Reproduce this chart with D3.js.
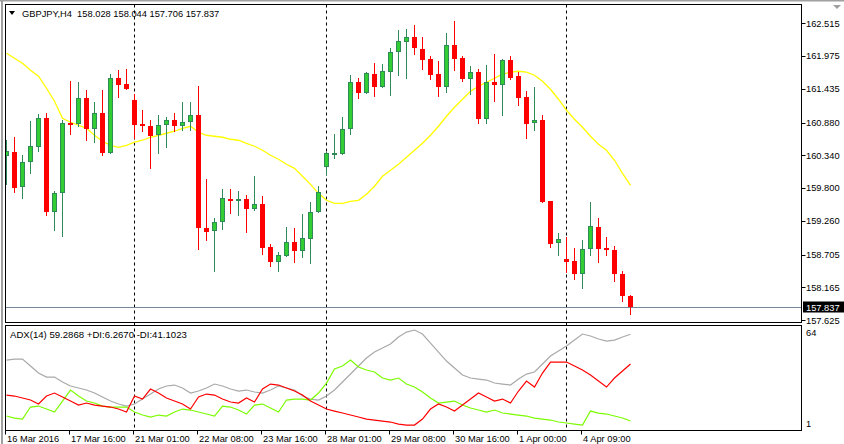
<!DOCTYPE html>
<html><head><meta charset="utf-8">
<script src="https://cdn.jsdelivr.net/npm/d3@7"></script>
<style>
body{margin:0;background:#fff}
svg{display:block}
text{font-family:"Liberation Sans",Arial,sans-serif;fill:#000}
</style>
</head><body>
<svg id="c" width="844" height="444"></svg>
<script>
const symbol = "GBPJPY,H4";
const opens = [160.324,160.390,159.813,160.225,160.472,160.950,159.401,159.714,160.868,160.851,
161.280,160.769,161.032,160.374,161.609,161.510,161.247,160.851,160.818,160.670,
160.835,160.917,160.818,160.884,160.999,159.138,159.089,159.237,159.616,159.583,
159.616,159.451,159.533,158.824,158.578,158.677,158.907,158.759,158.957,159.401,
160.143,160.374,160.357,160.769,161.543,161.362,161.675,161.461,161.708,162.037,
162.202,162.284,162.087,161.922,161.675,161.461,162.153,161.939,161.593,161.708,
160.934,161.543,161.494,161.906,161.642,161.296,160.868,160.917,159.583,158.891,
158.627,158.594,158.379,158.792,159.155,158.808,158.775,158.379,158.028];
const highs = [160.588,160.637,160.341,160.901,161.016,161.032,159.747,160.917,161.560,161.543,
161.411,161.214,161.411,161.675,161.741,161.757,161.345,161.082,160.917,160.999,
160.967,161.032,161.214,161.214,161.477,159.945,159.303,159.780,159.780,159.747,
159.682,159.995,159.665,158.874,158.743,159.155,159.138,159.369,159.566,159.830,
160.390,160.686,160.967,161.658,161.609,161.708,161.856,161.840,162.103,162.400,
162.416,162.482,162.284,161.971,161.889,162.350,162.548,161.971,161.807,161.757,
161.823,162.004,161.922,161.971,161.708,161.395,161.461,160.999,159.583,159.056,
158.990,158.808,158.940,159.566,159.303,158.990,158.841,158.430,158.044];
const lows = [159.846,159.714,159.616,160.028,160.390,159.336,159.089,158.990,160.670,160.802,
160.571,160.538,160.324,160.357,161.280,161.411,160.604,160.719,160.110,160.357,
160.456,160.719,160.736,160.736,158.775,158.924,158.413,159.105,159.369,159.336,
159.056,159.418,158.693,158.495,158.413,158.660,158.561,158.644,158.545,159.385,
160.011,160.275,160.341,160.670,161.263,161.345,161.296,161.444,161.312,161.642,
161.593,161.988,161.741,161.576,161.296,161.362,161.724,161.543,161.329,160.851,
160.851,161.214,160.983,161.576,161.148,160.604,160.736,159.550,158.808,158.677,
158.397,158.281,158.133,158.677,158.561,158.677,158.248,157.919,157.706];
const closes = [160.406,159.797,160.225,160.489,160.950,159.401,159.714,160.868,160.835,161.280,
160.769,161.032,160.374,161.609,161.494,161.428,160.835,160.818,160.654,160.835,
160.917,160.818,160.884,160.999,159.138,159.072,159.237,159.632,159.583,159.616,
159.451,159.533,158.808,158.578,158.693,158.907,158.759,158.973,159.401,159.731,
160.374,160.382,160.769,161.543,161.362,161.691,161.461,161.724,162.037,162.219,
162.284,162.103,161.906,161.658,161.461,162.153,161.922,161.593,161.708,160.934,
161.543,161.494,161.906,161.609,161.280,160.851,160.917,159.566,158.874,158.957,
158.578,158.379,158.792,159.171,158.792,158.775,158.379,158.018,157.837];
const maValues = [162.021,161.939,161.856,161.741,161.642,161.444,161.230,160.950,160.884,160.835,
160.785,160.670,160.571,160.505,160.472,160.505,160.555,160.588,160.637,160.670,
160.703,160.736,160.785,160.818,160.719,160.670,160.654,160.637,160.604,160.588,
160.538,160.489,160.423,160.341,160.275,160.192,160.126,159.995,159.862,159.714,
159.599,159.550,159.550,159.583,159.599,159.698,159.830,159.995,160.093,160.192,
160.308,160.423,160.538,160.670,160.818,160.983,161.131,161.263,161.395,161.477,
161.543,161.609,161.675,161.708,161.724,161.708,161.658,161.560,161.428,161.263,
161.082,160.934,160.802,160.654,160.522,160.423,160.258,160.044,159.846];
const adxValues = [43.55,44.16,44.16,39.88,35.60,33.15,33.15,30.09,27.65,26.42,
25.20,23.36,20.92,18.47,16.64,15.41,16.64,19.69,22.75,25.81,
27.65,28.26,26.42,23.36,24.59,26.42,28.87,27.65,25.81,24.59,
25.20,23.98,23.36,25.20,27.65,26.42,25.20,21.53,19.69,19.08,
21.53,25.20,30.09,34.98,39.88,44.77,48.44,50.89,53.33,57.61,
60.67,61.90,59.45,53.94,48.44,42.94,38.65,34.37,32.54,31.93,
31.31,29.48,28.87,28.26,31.93,34.98,36.21,41.10,46.00,49.05,
52.11,55.78,59.45,58.23,56.39,55.17,55.78,57.61,59.2868];
const minusDI = [22.14,21.53,20.31,19.08,16.64,21.53,23.36,20.92,18.47,16.02,
17.25,16.02,15.41,14.80,13.58,11.74,21.53,19.69,25.81,23.36,
20.31,18.47,16.64,13.58,20.92,22.75,22.14,19.69,17.86,17.25,
20.31,17.86,25.81,28.87,28.26,26.42,24.59,22.14,18.47,16.02,
13.58,12.35,11.13,9.91,8.69,7.46,6.85,6.24,5.63,4.40,
3.79,3.79,7.46,13.58,16.64,14.80,12.35,16.02,19.69,23.36,
20.92,18.47,19.69,17.25,24.59,30.70,27.03,35.60,42.32,42.32,
42.32,39.88,37.43,34.37,30.70,27.03,32.54,36.82,41.1023];
const plusDI = [9.30,8.07,7.46,14.80,15.41,13.58,11.74,18.47,25.20,21.53,
18.47,17.25,15.41,14.80,14.80,14.80,11.74,9.91,8.69,9.91,
9.30,11.74,13.58,12.97,11.74,10.52,9.30,15.41,14.80,12.97,
10.52,16.02,16.64,14.19,11.74,19.08,19.69,19.69,19.08,23.36,
29.48,38.04,39.88,43.55,39.27,37.43,36.21,32.54,31.31,32.54,
28.87,27.03,23.98,20.31,17.25,17.86,18.47,16.02,14.19,12.97,
11.74,12.97,11.13,10.52,9.91,9.30,8.07,7.46,6.85,5.63,
5.02,4.40,3.79,12.35,11.13,10.52,9.30,8.07,6.2670];
const priceTicks = [162.515,161.975,161.435,160.880,160.340,159.800,159.260,158.705,158.165,157.625];
const indicatorTicks = [64, 1];
const timeTickBars = [0,8,16,24,32,40,48,56,64,72];
const timeTickLabels = ["16 Mar 2016","17 Mar 16:00","21 Mar 01:00","22 Mar 08:00","23 Mar 16:00",
"28 Mar 01:00","29 Mar 08:00","30 Mar 16:00","1 Apr 00:00","4 Apr 09:00"];
const separatorBars = [16,40,70];

const n = opens.length;
const last = n - 1;
const svg = d3.select("#c");

const L = 5.5, R = 801.5, mainTop = 4.5, mainBot = 322.5, indTop = 325.5, indBot = 430.5;

const x = d3.scaleLinear().domain([0, 78]).range([6.5, 630.5]);
const y = d3.scaleLinear().domain([157.625, 162.515]).range([320.2, 23.2]);
const yi = d3.scaleLinear().domain([1, 64]).range([429.6, 326.6]);

svg.append("rect").attr("width",844).attr("height",444).attr("fill","#fff");
svg.append("rect").attr("x",0).attr("y",0).attr("width",844).attr("height",1.5).attr("fill","#a0a0a0");
svg.append("rect").attr("x",1).attr("y",0).attr("width",2).attr("height",444).attr("fill","#a0a0a0");

const defs = svg.append("defs");
defs.append("clipPath").attr("id","cm").append("rect").attr("x",L).attr("y",mainTop).attr("width",R-L).attr("height",mainBot-mainTop);
defs.append("clipPath").attr("id","ci").append("rect").attr("x",L).attr("y",indTop).attr("width",R-L).attr("height",indBot-indTop);

svg.append("g").selectAll("line").data(separatorBars).join("line")
  .attr("x1",d=>x(d)).attr("x2",d=>x(d)).attr("y1",mainTop).attr("y2",indBot)
  .attr("stroke","#000").attr("stroke-dasharray","3,3").attr("stroke-width",1);

const gm = svg.append("g").attr("clip-path","url(#cm)");

gm.append("line").attr("x1",L).attr("x2",R)
  .attr("y1",Math.round(y(closes[last]))+0.5).attr("y2",Math.round(y(closes[last]))+0.5)
  .attr("stroke","#778899");

gm.append("path").datum(maValues)
  .attr("d", d3.line().x((d,i)=>x(i)).y(d=>y(d)))
  .attr("fill","none").attr("stroke","#ffff00").attr("stroke-width",1.3);

const idx = d3.range(n);
const cg = gm.append("g").attr("shape-rendering","crispEdges");
cg.selectAll("line").data(idx).join("line")
  .attr("x1",i=>x(i)).attr("x2",i=>x(i))
  .attr("y1",i=>y(highs[i])).attr("y2",i=>y(lows[i]))
  .attr("stroke",i=>closes[i]>=opens[i]?"#2e8b57":"#ff0000");
cg.selectAll("rect.bear").data(idx.filter(i=>closes[i]<opens[i])).join("rect").attr("class","bear")
  .attr("x",i=>x(i)-2.5).attr("width",5)
  .attr("y",i=>y(opens[i])).attr("height",i=>Math.max(1.5,y(closes[i])-y(opens[i])))
  .attr("fill","#ff0000");
cg.selectAll("rect.bull").data(idx.filter(i=>closes[i]>=opens[i])).join("rect").attr("class","bull")
  .attr("x",i=>x(i)-2).attr("width",4)
  .attr("y",i=>y(closes[i])+0.5).attr("height",i=>Math.max(1,y(opens[i])-y(closes[i])-1))
  .attr("fill","#32cd32").attr("stroke","#2e8b57");

const gi = svg.append("g").attr("clip-path","url(#ci)");
const il = d3.line().x((d,i)=>x(i)).y(d=>yi(d));
[[adxValues,"#a9a9a9"],[plusDI,"#7cfc00"],[minusDI,"#ff0000"]].forEach(([arr,col])=>{
  gi.append("path").datum(arr).attr("d",il).attr("fill","none").attr("stroke",col).attr("stroke-width",1.2);
});

const fr = svg.append("g").attr("fill","none").attr("stroke","#000").attr("shape-rendering","crispEdges");
fr.append("rect").attr("x",L).attr("y",mainTop).attr("width",R-L).attr("height",mainBot-mainTop);
fr.append("rect").attr("x",L).attr("y",indTop).attr("width",R-L).attr("height",indBot-indTop);

const pa = svg.append("g");
pa.selectAll("line").data(priceTicks).join("line")
  .attr("x1",R).attr("x2",R+4).attr("y1",d=>Math.round(y(d))+0.5).attr("y2",d=>Math.round(y(d))+0.5)
  .attr("stroke","#000");
pa.selectAll("text").data(priceTicks).join("text")
  .attr("x",806).attr("y",d=>y(d)+3.3).attr("font-size","9.3px").text(d=>d.toFixed(3));

const ly = y(closes[last]);
svg.append("rect").attr("x",803).attr("y",Math.round(ly)-5.5).attr("width",41).attr("height",11).attr("fill","#000");
svg.append("text").attr("x",806).attr("y",ly+3.3).attr("font-size","9.3px").style("fill","#fff").text(closes[last].toFixed(3));

svg.append("g").selectAll("text").data(indicatorTicks).join("text")
  .attr("x",806).attr("y",(d,i)=>i===0?yi(d)+9.8:yi(d)-2.5).attr("font-size","9.3px").text(d=>d);

const ta = svg.append("g");
ta.selectAll("line").data(timeTickBars).join("line")
  .attr("x1",d=>Math.floor(x(d))-0.5).attr("x2",d=>Math.floor(x(d))-0.5).attr("y1",indBot).attr("y2",indBot+4)
  .attr("stroke","#000");
ta.selectAll("text").data(timeTickBars).join("text")
  .attr("x",d=>Math.floor(x(d))+1).attr("y",442).attr("font-size","9.3px")
  .text((d,i)=>timeTickLabels[i]);

svg.append("path").attr("d","M9,11 L15,11 L12,15 Z").attr("fill","#000");
svg.append("text").attr("x",22).attr("y",16.5).attr("font-size","9.3px").style("white-space","pre")
  .text(symbol+"  "+[opens[last],highs[last],lows[last],closes[last]].map(v=>v.toFixed(3)).join(" "));
svg.append("text").attr("x",10).attr("y",337.5).attr("font-size","9.6px")
  .text("ADX(14) "+adxValues[last].toFixed(4)+" +DI:"+plusDI[last].toFixed(4)+" -DI:"+minusDI[last].toFixed(4));

svg.append("path").attr("d","M833,5 L841,5 L837,9 Z").attr("fill","#a0a0a0");
</script>
</body></html>
